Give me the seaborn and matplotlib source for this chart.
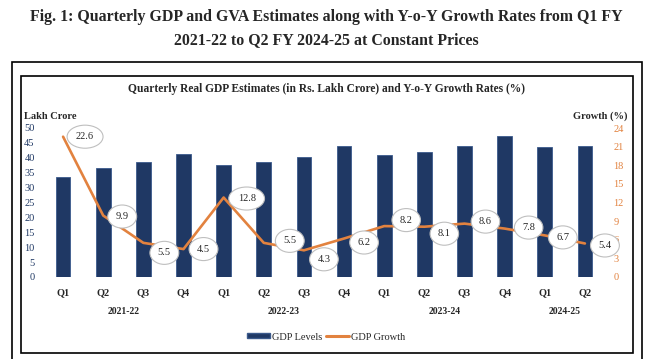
import pandas as pd
import seaborn as sns
import matplotlib.pyplot as plt
from matplotlib.patches import Rectangle, Patch
from matplotlib.lines import Line2D

# Quarterly data
quarters = ['Q1', 'Q2', 'Q3', 'Q4', 'Q1', 'Q2', 'Q3', 'Q4', 'Q1', 'Q2', 'Q3', 'Q4', 'Q1', 'Q2']
years = ['2021-22', '2022-23', '2023-24', '2024-25']
year_of_quarter = ['2021-22'] * 4 + ['2022-23'] * 4 + ['2023-24'] * 4 + ['2024-25'] * 2
gdp_levels = [33.4, 36.6, 38.6, 41.2, 37.6, 38.6, 40.3, 43.8, 40.9, 41.9, 43.8, 47.2, 43.6, 44.0]
gdp_growth = [22.6, 9.9, 5.5, 4.5, 12.8, 5.5, 4.3, 6.2, 8.2, 8.1, 8.6, 7.8, 6.7, 5.4]

# label bubble offsets (pixels) so they sit beside the line like in the original
label_offsets = [(22, 0), (19, -1), (21, -10), (20, 0), (23, -1), (26, 2), (20, -9),
                 (20, -4), (22, 6), (20, -7), (21, 2), (24, 1), (18, -2), (20, -2)]

df = pd.DataFrame({
    'period': [q + ' ' + y for q, y in zip(quarters, year_of_quarter)],
    'pos': range(len(quarters)),
    'level': gdp_levels,
    'growth': gdp_growth,
})

navy = '#1f3864'
orange = '#e2823f'

sns.set_style('white')
plt.rcParams['font.family'] = ['Liberation Serif', 'DejaVu Serif']

fig = plt.figure(figsize=(6.52, 3.59), dpi=100)
ax = fig.add_axes([43 / 652, 1 - 277 / 359, 562 / 652, 149 / 359])

sns.barplot(data=df, x='period', y='level', color=navy, width=0.37,
            saturation=1, edgecolor='#3b5a8c', linewidth=0.6, ax=ax)
ax.set_xlim(-0.5, len(quarters) - 0.5)
ax.set_ylim(0, 50)
ax.set_yticks(range(0, 51, 5))
ax.set_xticks(range(len(quarters)))
ax.set_xticklabels(quarters, fontsize=7.5, fontweight='bold')
ax.tick_params(axis='y', labelsize=7.5, colors=navy, length=0, pad=6)
ax.tick_params(axis='x', length=0, pad=8)
ax.set_xlabel('')
ax.set_ylabel('')

ax2 = ax.twinx()
sns.lineplot(data=df, x='pos', y='growth', color=orange, linewidth=1.9, ax=ax2)
ax2.set_ylim(0, 24)
ax2.set_yticks(range(0, 25, 3))
ax2.tick_params(axis='y', labelsize=7.5, colors=orange, length=0, pad=6)
ax2.set_xlabel('')
ax2.set_ylabel('')

for i, (val, off) in enumerate(zip(gdp_growth, label_offsets)):
    ax2.annotate(f'{val}', (i, val), xytext=off, textcoords='offset pixels',
                 ha='center', va='center', fontsize=7.5,
                 bbox=dict(boxstyle='ellipse,pad=0.35', fc='white', ec='#bfbfbf', lw=0.8))

for a in (ax, ax2):
    for s in a.spines.values():
        s.set_visible(False)

# year group labels under the quarter ticks
for y in years:
    idx = [k for k, yy in enumerate(year_of_quarter) if yy == y]
    ax.text(sum(idx) / len(idx), -0.2, y, transform=ax.get_xaxis_transform(),
            ha='center', va='top', fontsize=7, fontweight='bold')

ax.text(-0.034, 1.05, 'Lakh Crore', transform=ax.transAxes, ha='left', va='bottom',
        fontsize=7.5, fontweight='bold')
ax.text(1.04, 1.05, 'Growth (%)', transform=ax.transAxes, ha='right', va='bottom',
        fontsize=7.5, fontweight='bold')

# titles
fig.text(0.5, 1 - 17 / 359, 'Fig. 1: Quarterly GDP and GVA Estimates along with Y-o-Y Growth Rates from Q1 FY',
         ha='center', va='center', fontsize=11.4, fontweight='bold')
fig.text(0.5, 1 - 40 / 359, '2021-22 to Q2 FY 2024-25 at Constant Prices',
         ha='center', va='center', fontsize=11.4, fontweight='bold')
fig.text(0.5, 1 - 89 / 359, 'Quarterly Real GDP Estimates (in Rs. Lakh Crore) and Y-o-Y Growth Rates (%)',
         ha='center', va='center', fontsize=8.3, fontweight='bold')

# legend
handles = [Patch(facecolor=navy, edgecolor='#3b5a8c'),
           Line2D([0], [0], color=orange, lw=2.2)]
fig.legend(handles, ['GDP Levels', 'GDP Growth'], loc='center', bbox_to_anchor=(0.5, 1 - 337 / 359),
           ncol=2, frameon=False, fontsize=7.5, handlelength=2.2, handleheight=0.4,
           columnspacing=0.4, handletextpad=0.2)

# outer and inner frames
fig.patches.append(Rectangle((12 / 652, -0.05), 630 / 652, 1.05 - 62 / 359, transform=fig.transFigure,
                             fill=False, ec='black', lw=1.2))
fig.patches.append(Rectangle((21 / 652, 1 - 353 / 359), 612 / 652, 277 / 359, transform=fig.transFigure,
                             fill=False, ec='black', lw=1.2))

fig.savefig('out.png', dpi=100)
